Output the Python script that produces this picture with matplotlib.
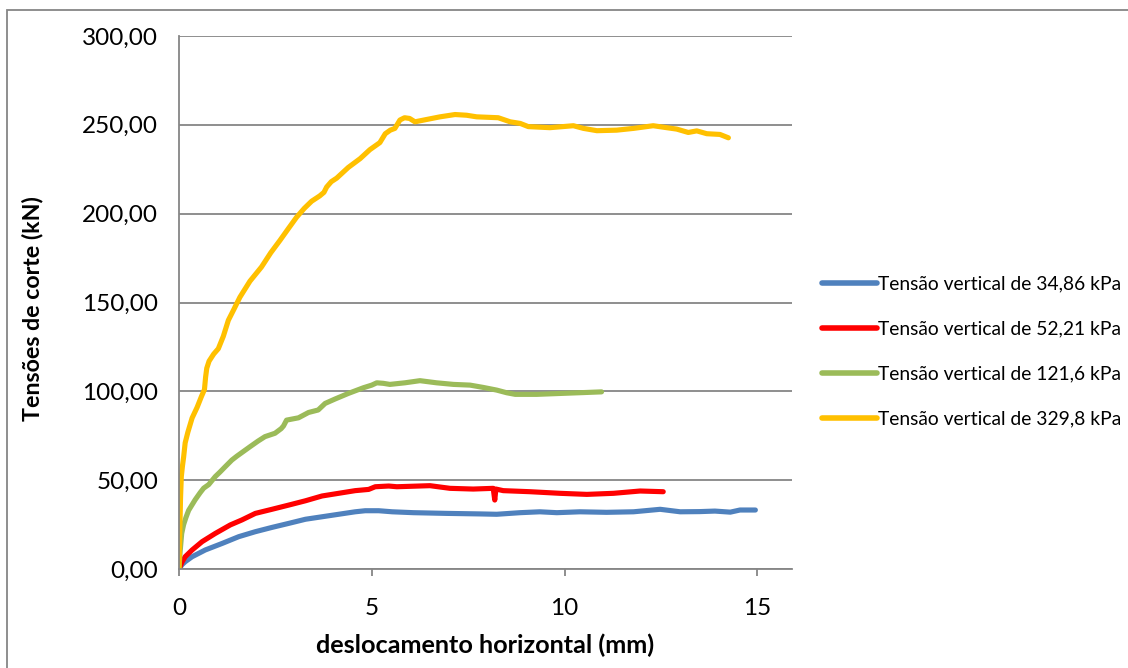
import matplotlib
matplotlib.use("Agg")
import matplotlib.pyplot as plt
from matplotlib.patches import Rectangle
from matplotlib.ticker import FuncFormatter

# Shear tests: horizontal displacement (mm) vs shear stress (kN)
labels = [
    "Tensão vertical de 34,86 kPa",
    "Tensão vertical de 52,21 kPa",
    "Tensão vertical de 121,6 kPa",
    "Tensão vertical de 329,8 kPa",
]
colors = ["#4F81BD", "#FF0000", "#9BBB59", "#FFC000"]

x_3486 = [0, 0.08, 0.16, 0.34, 0.68, 1.12, 1.55, 1.98, 2.41, 2.85, 3.28, 3.71, 4.14,
          4.57, 4.83, 5.18, 5.53, 6.08, 6.94, 7.81, 8.24, 8.85, 9.36, 9.8, 10.4, 11.09,
          11.79, 12.48, 13.0, 13.5, 13.9, 14.3, 14.55, 14.95]
y_3486 = [0, 2.5, 4.1, 6.9, 10.7, 14.4, 18.2, 21.0, 23.4, 25.7, 28.0, 29.4, 30.8,
          32.2, 32.8, 32.8, 32.2, 31.7, 31.3, 31.0, 30.8, 31.7, 32.2, 31.7, 32.2, 31.9,
          32.2, 33.6, 32.2, 32.3, 32.6, 32.0, 33.2, 33.2]

x_5221 = [0, 0.04, 0.08, 0.16, 0.34, 0.6, 0.94, 1.33, 1.63, 1.98, 2.41, 2.85, 3.28,
          3.71, 4.14, 4.57, 4.92, 5.09, 5.44, 5.65, 6.51, 7.03, 7.63, 8.15, 8.19, 8.22,
          8.41, 9.11, 9.88, 10.58, 11.27, 11.96, 12.56]
y_5221 = [0, 2.0, 4.0, 6.9, 10.7, 15.4, 20.0, 24.8, 27.6, 31.3, 33.6, 36.0, 38.4,
          41.1, 42.6, 44.1, 44.8, 46.3, 46.7, 46.3, 46.9, 45.4, 45.0, 45.4, 38.8, 45.0,
          44.1, 43.5, 42.6, 42.0, 42.6, 43.9, 43.5]

x_1216 = [0, 0.03, 0.07, 0.12, 0.18, 0.25, 0.42, 0.55, 0.64, 0.77, 0.94, 1.06, 1.2,
          1.37, 1.5, 1.84, 2.05, 2.23, 2.49, 2.65, 2.71, 2.79, 3.1, 3.36, 3.61, 3.79,
          4.05, 4.39, 4.78, 5.0, 5.13, 5.3, 5.47, 5.86, 6.25, 6.68, 7.12, 7.55, 7.89,
          8.24, 8.5, 8.72, 9.28, 9.88, 10.49, 10.96]
y_1216 = [0, 10, 20, 25, 29, 33, 39, 43, 45.5, 47.5, 52, 54.5, 57.6,
          61.3, 63.5, 68.8, 72, 74.5, 76.4, 79, 80.5, 83.8, 85.1, 88.1, 89.5, 93.2,
          95.7, 98.8, 102, 103.5, 104.8, 104.5, 103.9, 104.8, 106, 104.8, 103.9, 103.5, 102.2,
          100.7, 99.2, 98.3, 98.3, 98.8, 99.3, 99.7]

x_3298 = [0, 0.02, 0.04, 0.06, 0.09, 0.12, 0.16, 0.23, 0.34, 0.47, 0.58, 0.66, 0.69,
          0.72, 0.78, 0.9, 1.02, 1.15, 1.28, 1.42, 1.58, 1.84, 2.14, 2.38, 2.62, 2.85,
          3.05, 3.25, 3.44, 3.65, 3.76, 3.83, 3.95, 4.09, 4.39, 4.7, 4.95, 5.21, 5.35,
          5.48, 5.6, 5.73, 5.85, 5.98, 6.12, 6.42, 6.77, 7.16, 7.46, 7.72, 8.28, 8.59,
          8.85, 9.06, 9.62, 10.23, 10.49, 10.84, 11.35, 11.79, 12.3, 12.65, 12.91, 13.21,
          13.43, 13.69, 14.03, 14.25]
y_3298 = [0, 20, 40, 52, 58, 63, 71, 77, 85, 91, 97, 101, 108,
          113, 117, 121, 124, 131, 140, 146, 153, 162, 170, 178, 185, 192,
          198, 203, 207, 210, 212, 215, 218, 220, 226, 231, 236, 240, 245,
          247, 248, 252.7, 254, 253.6, 251.7, 253, 254.5, 255.8, 255.4, 254.5, 254, 251.7,
          250.8, 249, 248.4, 249.5, 248, 246.7, 247, 248, 249.5, 248.4, 247.6, 245.7,
          246.6, 245, 244.6, 242.7]

series = [(x_3486, y_3486), (x_5221, y_5221), (x_1216, y_1216), (x_3298, y_3298)]

x_ticks = [0, 5, 10, 15]
y_ticks = [0, 50, 100, 150, 200, 250, 300]

FONT = "Lato"
GRID = "#868686"

fig = plt.figure(figsize=(11.28, 6.68), dpi=100)
fig.patch.set_facecolor("white")

# outer chart frame
fig.patches.append(Rectangle((7 / 1128, -0.1), 1.2, 1 - 10 / 668 + 0.1,
                             transform=fig.transFigure, fill=False,
                             edgecolor=GRID, linewidth=1.3))

ax = fig.add_axes([179 / 1128, 1 - 569 / 668, (792 - 179) / 1128, (569 - 36) / 668])

for (xs, ys), lab, col in zip(series, labels, colors):
    ax.plot(xs, ys, color=col, linewidth=3.7, label=lab,
            solid_capstyle="round", solid_joinstyle="round")

ax.set_xlim(0, 15.9)
ax.set_ylim(0, 300)
ax.set_xticks(x_ticks)
ax.set_yticks(y_ticks)
ax.yaxis.set_major_formatter(FuncFormatter(lambda v, p: f"{v:.2f}".replace(".", ",")))
ax.xaxis.set_major_formatter(FuncFormatter(lambda v, p: f"{int(v)}"))

ax.grid(axis="y", color=GRID, linewidth=1.3)
ax.set_axisbelow(True)
for side in ("top", "right"):
    ax.spines[side].set_visible(False)
for side in ("left", "bottom"):
    ax.spines[side].set_color(GRID)
    ax.spines[side].set_linewidth(1.3)

ax.tick_params(axis="y", length=0, pad=15, labelsize=17.5, labelcolor="black")
ax.tick_params(axis="x", length=5, width=1.3, color=GRID, direction="out", pad=16,
               labelsize=17.5, labelcolor="black")
for t in ax.get_xticklabels() + ax.get_yticklabels():
    t.set_fontfamily(FONT)

fig.text(33 / 1128, 1 - 309 / 668, "Tensões de corte (kN)", rotation=90,
         ha="center", va="center", fontsize=16.7, fontweight="bold", family=FONT)
fig.text(485 / 1128, 1 - 645 / 668, "deslocamento horizontal (mm)",
         ha="center", va="center", fontsize=18.2, fontweight="bold", family=FONT)

leg = fig.legend(loc="center left", bbox_to_anchor=(804.5 / 1128, 1 - 351.5 / 668),
                 frameon=False, prop={"family": FONT, "size": 13.9},
                 handlelength=2.83, handletextpad=0.1, labelspacing=1.45)
for line in leg.get_lines():
    line.set_linewidth(4)
    line.set_solid_capstyle("round")

fig.savefig("out.png", dpi=100, facecolor="white")
